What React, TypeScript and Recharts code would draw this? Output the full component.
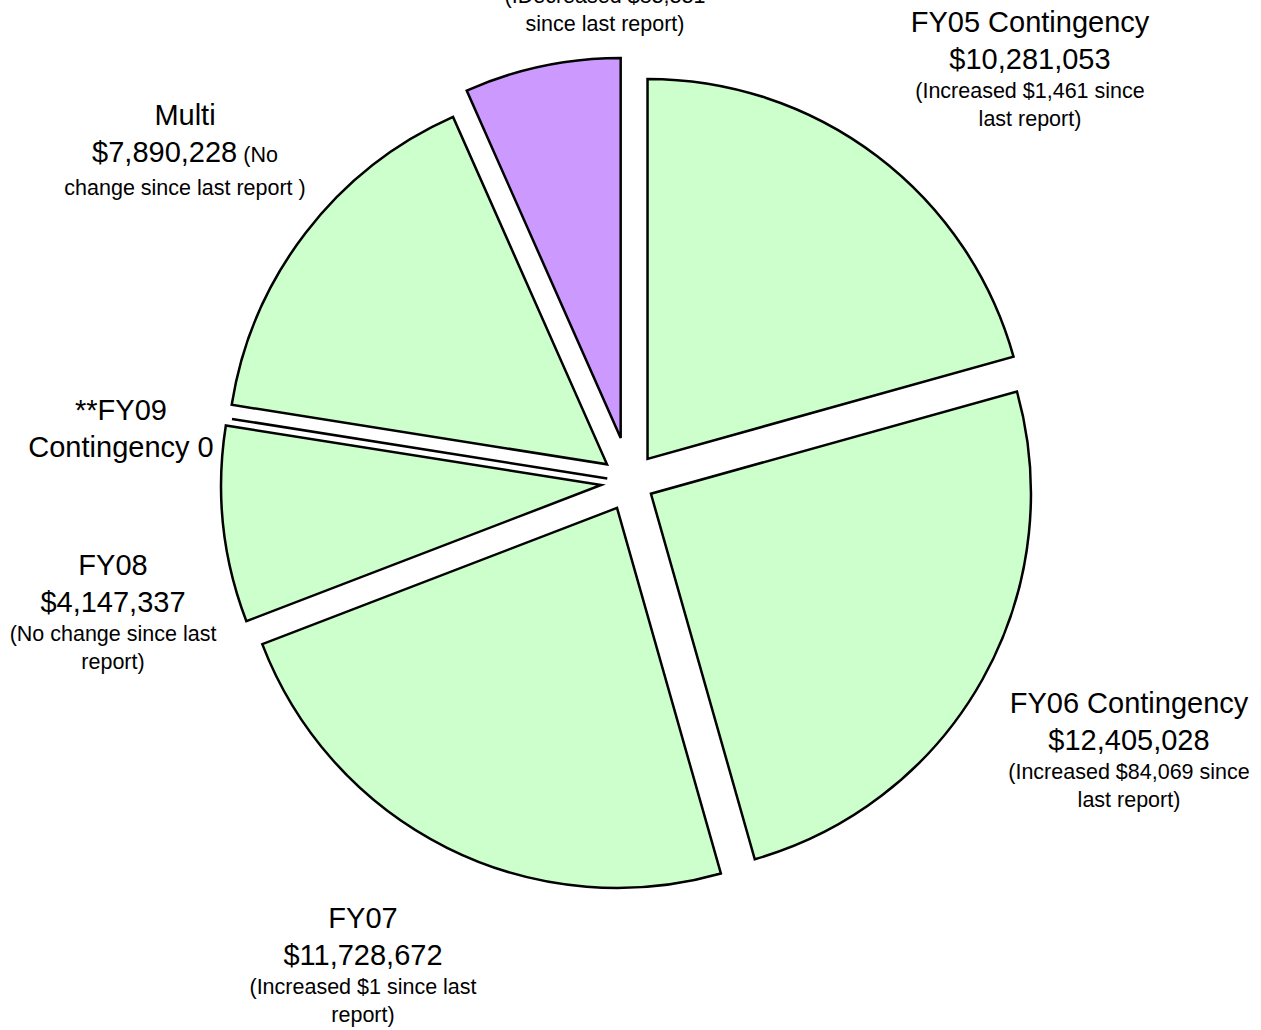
import { PieChart, Pie, Cell } from "recharts";

// slices, clockwise from 12 o'clock
const SLICE_NAMES = [
  "FY05 Contingency",
  "FY06 Contingency",
  "FY07",
  "FY08",
  "**FY09 Contingency",
  "Multi",
  "FY04 Contingency",
];
const SLICE_VALUES = [10281053, 12405028, 11728672, 4147337, 0, 7890228, 3303519];

// label text: big lines, then small note lines
const LABEL_TITLES = [
  ["FY05 Contingency", "$10,281,053"],
  ["FY06 Contingency", "$12,405,028"],
  ["FY07", "$11,728,672"],
  ["FY08", "$4,147,337"],
  ["**FY09", "Contingency 0"],
  ["Multi", "$7,890,228"],
  ["FY04 Contingency", "$3,303,519"],
];
const LABEL_NOTES = [
  ["(Increased $1,461 since", "last report)"],
  ["(Increased $84,069 since", "last report)"],
  ["(Increased $1 since last", "report)"],
  ["(No change since last", "report)"],
  [],
  ["(No", "change since last report )"],
  ["(IDecreased $83,331", "since last report)"],
];

const data = SLICE_NAMES.map((name, i) => ({ name, value: SLICE_VALUES[i] }));

const CX = 630;
const CY = 482;
const RADIUS = 380;
const FONT = "'Liberation Sans', Arial, sans-serif";
const GREEN = "#CCFFCC";
const PURPLE = "#CC99FF";

// label anchor (center x, first baseline) and explode distance per slice
const LAYOUT = [
  { x: 1030, y: 32, explode: 29, fill: GREEN },
  { x: 1129, y: 713, explode: 24, fill: GREEN },
  { x: 363, y: 928, explode: 29, fill: GREEN },
  { x: 113, y: 575, explode: 29, fill: GREEN },
  { x: 121, y: 420, explode: 23, fill: GREEN },
  { x: 185, y: 125, explode: 29, fill: GREEN, inlineNote: true },
  { x: 605, y: -63, explode: 45, fill: PURPLE },
];

const total = SLICE_VALUES.reduce((a, b) => a + b, 0);
const midAngles = SLICE_VALUES.map((v, i) => {
  const before = SLICE_VALUES.slice(0, i).reduce((a, b) => a + b, 0);
  return ((before + v / 2) / total) * 2 * Math.PI; // clockwise from top
});

const BIG = 29;
const SMALL = 21.5;

const makeLabel = (slice: number) => (props: any) => {
  if (props.index !== slice) return null;
  const lay = LAYOUT[slice];
  const titles = LABEL_TITLES[slice];
  const notes = LABEL_NOTES[slice];
  const out: any[] = [];
  let y = lay.y;
  titles.forEach((t, k) => {
    if (k > 0) y += 37;
    if (lay.inlineNote && k === titles.length - 1) {
      out.push(
        <text key={"t" + k} x={lay.x} y={y} textAnchor="middle" fontFamily={FONT} fill="#000">
          <tspan fontSize={BIG}>{t}</tspan>
          <tspan fontSize={SMALL}>{" " + notes[0]}</tspan>
        </text>
      );
    } else {
      out.push(
        <text key={"t" + k} x={lay.x} y={y} textAnchor="middle" fontFamily={FONT} fontSize={BIG} fill="#000">
          {t}
        </text>
      );
    }
  });
  const restNotes = lay.inlineNote ? notes.slice(1) : notes;
  restNotes.forEach((n, k) => {
    y += k === 0 ? (lay.inlineNote ? 33 : 29) : 28;
    out.push(
      <text key={"n" + k} x={lay.x} y={y} textAnchor="middle" fontFamily={FONT} fontSize={SMALL} fill="#000">
        {n}
      </text>
    );
  });
  // zero-value slice is drawn as a single radius line
  if (SLICE_VALUES[slice] === 0) {
    const rad = (-props.midAngle * Math.PI) / 180;
    out.push(
      <line
        key="zero"
        x1={props.cx}
        y1={props.cy}
        x2={props.cx + props.outerRadius * Math.cos(rad)}
        y2={props.cy + props.outerRadius * Math.sin(rad)}
        stroke="#000"
        strokeWidth={2.5}
      />
    );
  }
  return <g>{out}</g>;
};

export default function App() {
  return (
    <div style={{ position: "absolute", left: 0, top: 0, background: "#fff" }}>
      <PieChart width={1261} height={1030} margin={{ top: 0, right: 0, bottom: 0, left: 0 }}>
        {data.map((d, slice) => {
          const lay = LAYOUT[slice];
          const a = midAngles[slice];
          return (
            <Pie
              key={d.name}
              data={data}
              dataKey="value"
              nameKey="name"
              cx={CX + lay.explode * Math.sin(a)}
              cy={CY - lay.explode * Math.cos(a)}
              outerRadius={RADIUS}
              startAngle={90}
              endAngle={-270}
              labelLine={false}
              label={makeLabel(slice)}
              isAnimationActive={false}
            >
              {data.map((e, i) => (
                <Cell
                  key={e.name}
                  fill={i === slice ? lay.fill : "none"}
                  stroke={i === slice ? "#000" : "none"}
                  strokeWidth={2.5}
                />
              ))}
            </Pie>
          );
        })}
      </PieChart>
    </div>
  );
}
